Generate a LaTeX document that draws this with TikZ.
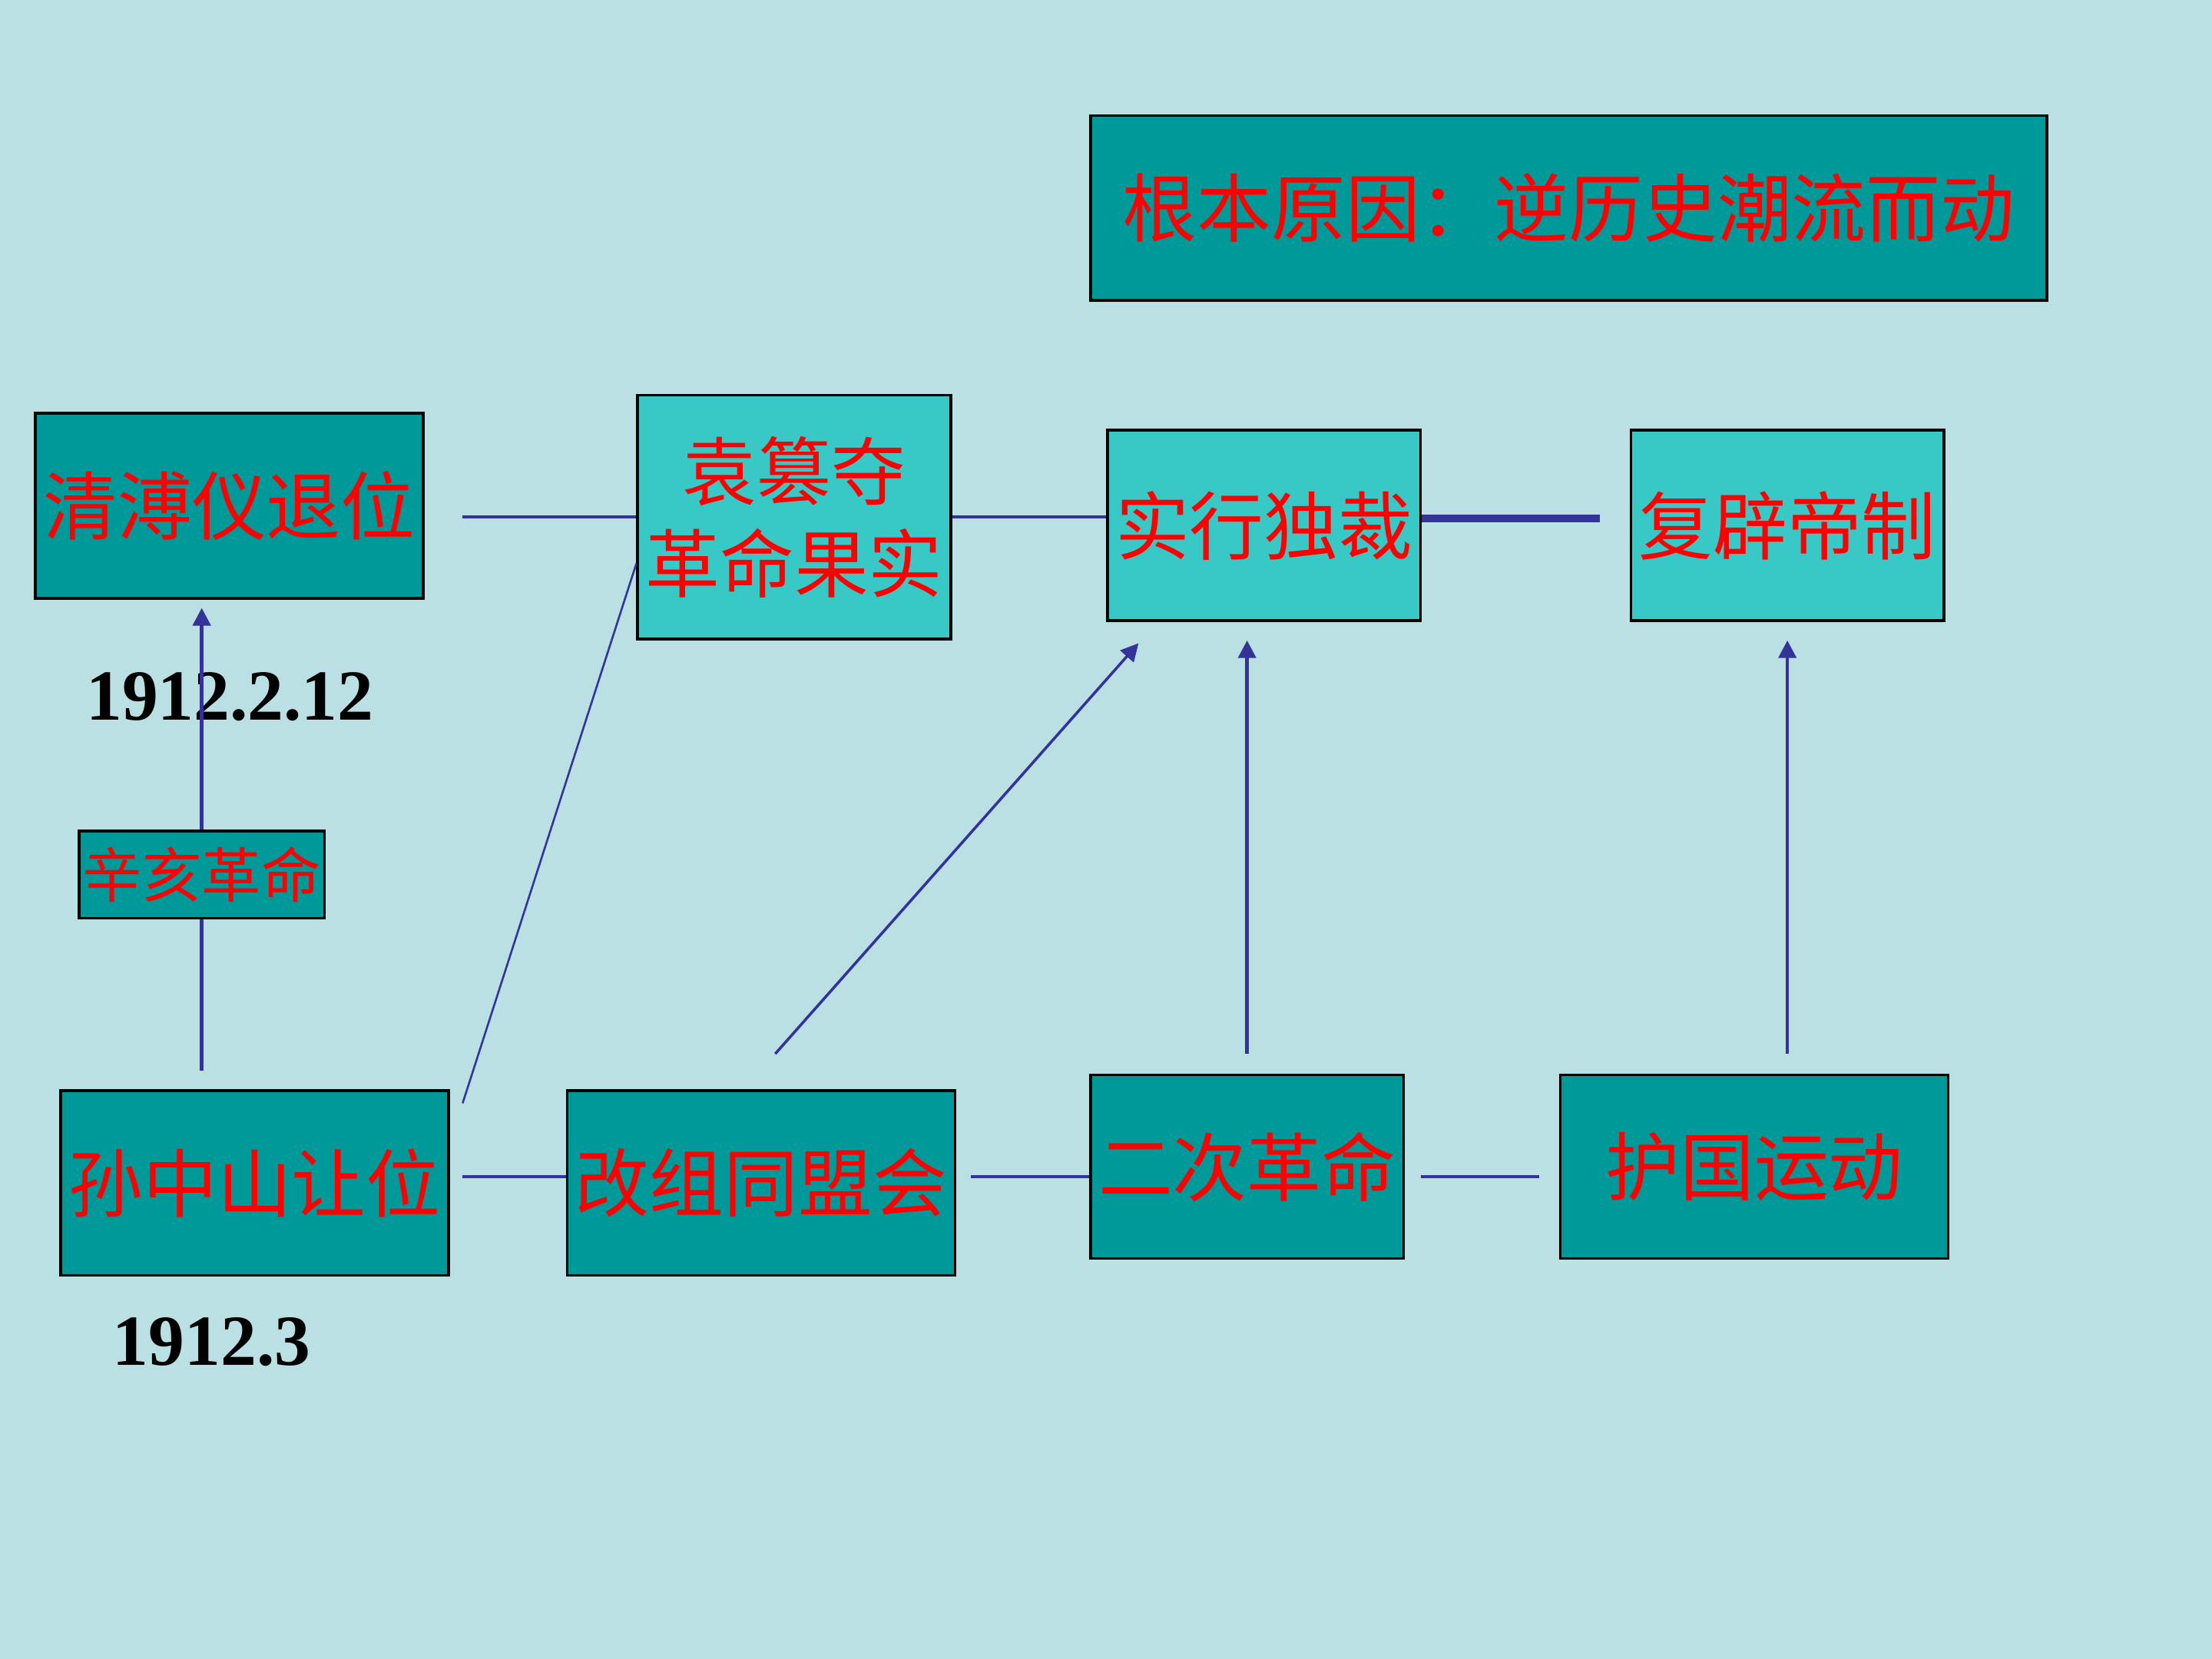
\documentclass[tikz,border=0pt]{standalone}
\usepackage{fontspec}
\setmainfont{Liberation Serif}
\newfontfamily\cjk{Noto Sans CJK SC}
\usetikzlibrary{arrows.meta}
\definecolor{bgblue}{HTML}{BBE0E3}
\definecolor{darkteal}{HTML}{009999}
\definecolor{lightteal}{HTML}{38C9C6}
\definecolor{linkblue}{HTML}{333399}

\begin{document}
\begin{tikzpicture}[x=0.02cm, y=-0.02cm,
  box/.style={draw=black, line width=1.1pt, inner sep=0pt, text=red, align=center,
    font=\cjk\fontsize{30}{37}\selectfont},
  dark/.style={box, fill=darkteal},
  light/.style={box, fill=lightteal},
  link/.style={draw=linkblue, line width=1.4pt},
  arr/.style={link, -{Triangle[length=0.25cm, width=0.25cm]}},
  date/.style={font=\bfseries\fontsize{29}{34}\selectfont}]

% Background
\fill[bgblue] (0,0) rectangle (1568,1176);

% Root cause
\node[dark, minimum width=13.56cm, minimum height=2.62cm] (cause) at (1112,147.5) {根本原因：逆历史潮流而动};

% Upper row
\node[dark, minimum width=5.5cm, minimum height=2.62cm] (qing) at (162.5,358.5) {清溥仪退位};
\node[light, minimum width=4.44cm, minimum height=3.46cm] (yuan) at (563,366.5) {袁篡夺\\革命果实};
\node[light, minimum width=4.44cm, minimum height=2.7cm] (shixing) at (896,372.5) {实行独裁};
\node[light, minimum width=4.44cm, minimum height=2.7cm] (fubi) at (1267,372.5) {复辟帝制};

% Middle
\node[dark, minimum width=3.48cm, minimum height=1.24cm, font=\cjk\fontsize{24}{28}\selectfont]
  (xinhai) at (143,620) {辛亥革命};

% Lower row
\node[dark, minimum width=5.5cm, minimum height=2.62cm] (sun) at (180.5,838.5) {孙中山让位};
\node[dark, minimum width=5.5cm, minimum height=2.62cm] (gaige) at (539.5,838.5) {改组同盟会};
\node[dark, minimum width=4.44cm, minimum height=2.6cm] (er) at (884,827) {二次革命};
\node[dark, minimum width=5.5cm, minimum height=2.6cm] (huguo) at (1243.5,827) {护国运动};

% Dates
\node[date] (date1) at (163,494) {1912.2.12};
\node[date] (date2) at (150,951) {1912.3};

% Upper links
\draw[link, shorten <=0.54cm] (qing.east |- yuan.west) -- (yuan.west);
\draw[link] (yuan.east) -- (yuan.east -| shixing.west);
\draw[link, line width=2.8pt, shorten >=0.42cm] ([yshift=0.1cm]shixing.east) -- ([yshift=0.1cm]fubi.west);

% Lower links
\draw[link, shorten <=0.18cm] ([yshift=0.09cm]sun.east) -- ([yshift=0.09cm]gaige.west);
\draw[link, shorten <=0.2cm] ([yshift=0.09cm]gaige.east) -- ([yshift=0.09cm]gaige.east -| er.west);
\draw[link, shorten <=0.22cm, shorten >=0.28cm] ([yshift=0.09cm]er.east |- gaige.east) -- ([yshift=0.09cm]huguo.west |- gaige.east);

% Arrows up
\draw[link, shorten <=0.26cm] (sun.north -| xinhai.south) -- (xinhai.south);
\draw[arr, shorten >=0.12cm] (xinhai.north) -- (xinhai.north |- qing.south);
\draw[link, line width=0.8pt] ([shift={(9,10)}]sun.north east) -- ([shift={(0,33)}]yuan.west);
\draw[arr, line width=1.1pt] ([shift={(10,-25)}]gaige.north) -- ([shift={(23,15)}]shixing.south west);
\draw[arr, shorten <=0.28cm, shorten >=0.26cm] (er.north) -- (er.north |- shixing.south);
\draw[arr, shorten <=0.28cm, shorten >=0.26cm] (fubi.south |- huguo.north) -- (fubi.south);

\end{tikzpicture}
\end{document}
